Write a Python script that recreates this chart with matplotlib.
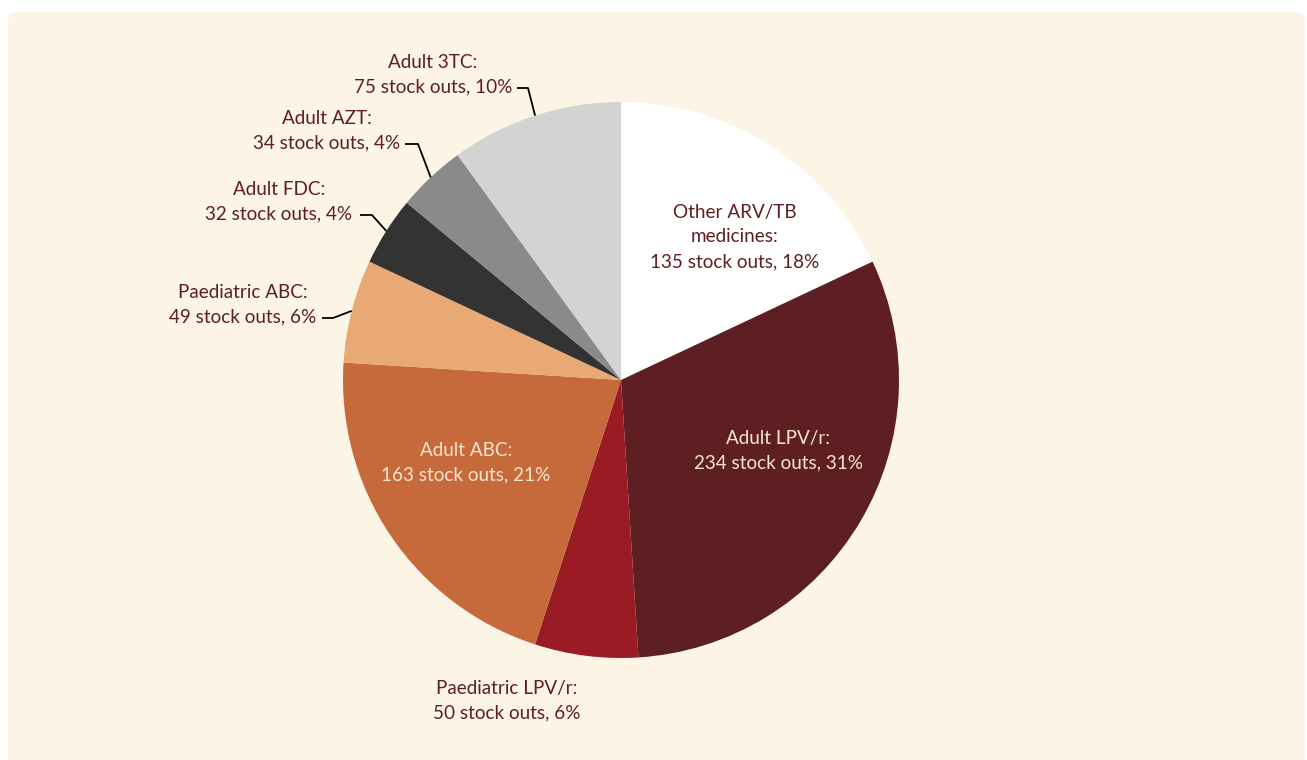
import numpy as np
import matplotlib.pyplot as plt
from matplotlib.patches import FancyBboxPatch

plt.rcParams['font.family'] = ['Lato', 'DejaVu Sans']

# data, clockwise from 12 o'clock
names = ['Other ARV/TB\nmedicines', 'Adult LPV/r', 'Paediatric LPV/r', 'Adult ABC',
         'Paediatric ABC', 'Adult FDC', 'Adult AZT', 'Adult 3TC']
stockouts = [135, 234, 50, 163, 49, 32, 34, 75]
shares = [18, 31, 6, 21, 6, 4, 4, 10]   # percent, slices are drawn from these
colors = ['#FFFFFF', '#5E1F22', '#9B1B24', '#C76A3B', '#E8A975', '#333333', '#8A8A8A', '#D3D3D3']

txt_dark = '#5E1F22'
txt_light = '#F9E4CE'

W, H = 1307, 760
fig = plt.figure(figsize=(W / 100, H / 100), dpi=100)
fig.patch.set_facecolor('white')

ax = fig.add_axes([0, 0, 1, 1])
ax.axis('off')

# cream panel with rounded top corners
bg = FancyBboxPatch((8, -30), 1297, H - 12 + 30, boxstyle='round,pad=0,rounding_size=10',
                    facecolor='#FCF5E6', edgecolor='none', zorder=0)
ax.add_patch(bg)

cx, cy, r = 621, H - 380, 278
wedges, _ = ax.pie(shares, colors=colors, startangle=90, counterclock=False,
                   center=(cx, cy), radius=r, wedgeprops=dict(linewidth=0, zorder=1))
ax.set_xlim(0, W)
ax.set_ylim(0, H)
ax.set_aspect('equal')
ax.axis('off')

labels = [f'{n}:\n{v} stock outs, {p}%' for n, v, p in zip(names, stockouts, shares)]

# label placement (pixel coords of text centre), and leader line start/elbow x
place = {
    0: (735, 237, txt_dark, None),
    1: (778, 451, txt_light, None),
    2: (507, 701, txt_dark, None),
    3: (466, 463, txt_light, None),
    4: (243, 305, txt_dark, (322, 333)),
    5: (279, 202, txt_dark, (360, 372)),
    6: (327, 131, txt_dark, (405, 418)),
    7: (433, 75, txt_dark, (517, 528)),
}

for i, w in enumerate(wedges):
    x, y, c, lead = place[i]
    ax.text(x, H - y, labels[i], ha='center', va='center', fontsize=13.6, color=c,
            linespacing=1.55, zorder=3)
    if lead:
        ang = np.deg2rad((w.theta1 + w.theta2) / 2)
        ex, ey = cx + r * np.cos(ang), cy + r * np.sin(ang)
        ly = H - y - 13
        ax.plot([lead[0], lead[1], ex], [ly, ly, ey], color='black', lw=1.3,
                solid_capstyle='butt', zorder=2)

fig.savefig('out.png', dpi=100, facecolor=fig.get_facecolor())
